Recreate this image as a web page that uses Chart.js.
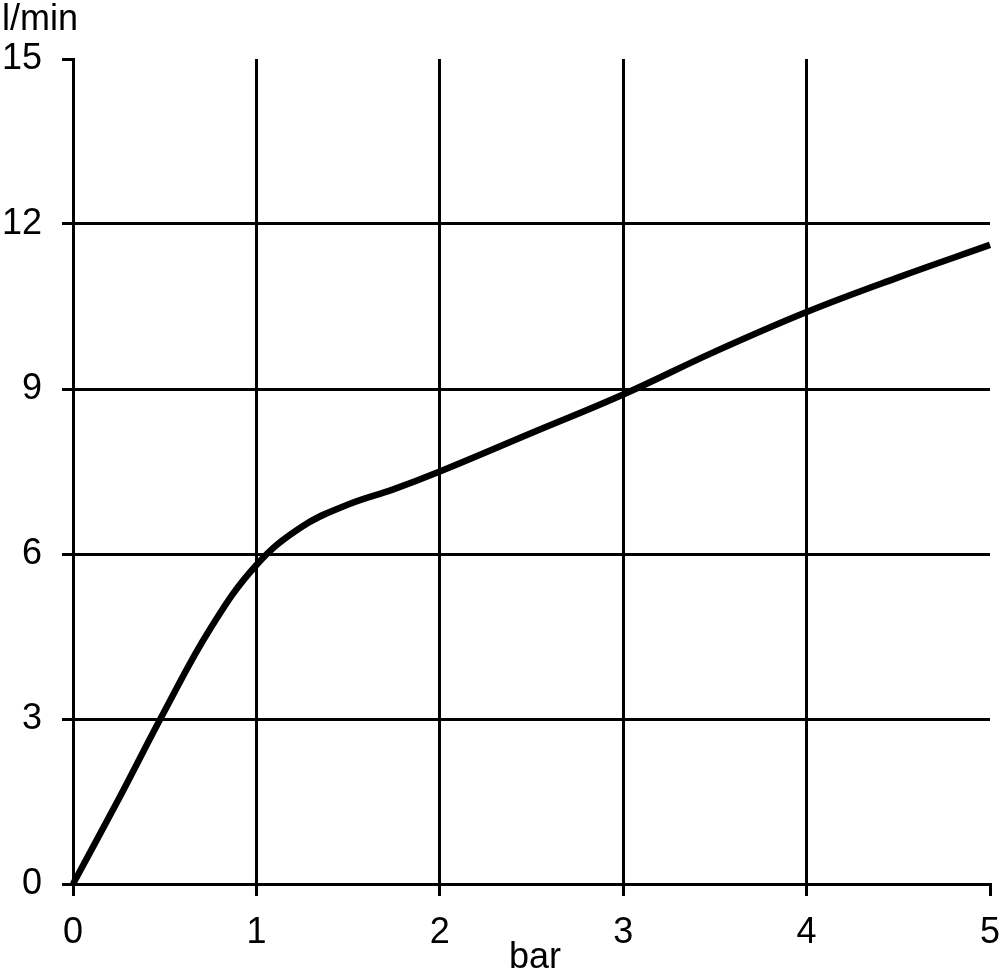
<!DOCTYPE html>
<html>
<head>
<meta charset="utf-8">
<script src="https://cdn.jsdelivr.net/npm/chart.js@4/dist/chart.umd.min.js"></script>
<style>
  html, body { margin: 0; padding: 0; background: #fff; }
  #wrap { width: 1000px; height: 970px; position: relative; }
</style>
</head>
<body>
<div id="wrap"><canvas id="flowChart"></canvas></div>
<script>
// pressure (bar) vs flow (l/min)
const pressure = [0, 0.25, 0.5, 0.75, 1, 1.25, 1.5, 1.75, 2, 2.5, 3, 3.5, 4, 4.5, 5];
const flow = [0, 1.55, 3.15, 4.65, 5.8, 6.5, 6.9, 7.18, 7.5, 8.2, 8.9, 9.68, 10.4, 11.03, 11.62];
const xTicks = [0, 1, 2, 3, 4, 5];
const yTicks = [0, 3, 6, 9, 12, 15];
const xTitle = 'bar';
const yTitle = 'l/min';

const FONT = 'Liberation Sans, Arial, sans-serif';

// axis titles drawn at the corners like the original
const titlePlugin = {
    id: 'titles',
    afterDraw(chart) {
        const c = chart.ctx;
        c.save();
        c.fillStyle = '#000';
        c.font = '36px ' + FONT;
        c.textBaseline = 'alphabetic';
        c.textAlign = 'left';
        c.fillText(yTitle, 2, 30);
        c.textAlign = 'center';
        c.fillText(xTitle, 535, 968);
        c.restore();
    }
};

const ctx = document.getElementById('flowChart').getContext('2d');
new Chart(ctx, {
    type: 'line',
    data: {
        datasets: [{
            data: pressure.map((p, i) => ({ x: p, y: flow[i] })),
            borderColor: '#000',
            borderWidth: 6.5,
            pointRadius: 0,
            fill: false,
            tension: 0.4,
            clip: false
        }]
    },
    options: {
        responsive: true,
        maintainAspectRatio: false,
        animation: false,
        layout: { padding: { top: 59, right: 10, left: 0, bottom: 0 } },
        plugins: {
            legend: { display: false },
            tooltip: { enabled: false }
        },
        scales: {
            x: {
                type: 'linear',
                min: 0,
                max: 5,
                afterBuildTicks: (s) => { s.ticks = xTicks.map(v => ({ value: v })); },
                afterFit: (s) => { s.height = 86; s.paddingRight = 0; s.paddingLeft = 0; },
                border: { color: '#000', width: 3 },
                grid: {
                    color: (c) => c.tick && c.tick.value === 5 ? 'rgba(0,0,0,0)' : '#000',
                    tickColor: '#000',
                    lineWidth: 3,
                    tickLength: 12
                },
                ticks: {
                    color: '#000',
                    font: { family: FONT, size: 36 },
                    padding: 15,
                    maxRotation: 0
                }
            },
            y: {
                min: 0,
                max: 15,
                afterBuildTicks: (s) => { s.ticks = yTicks.map(v => ({ value: v })); },
                afterFit: (s) => { s.width = 73; s.paddingTop = 0; s.paddingBottom = 0; },
                border: { color: '#000', width: 3 },
                grid: {
                    color: (c) => c.tick && c.tick.value === 15 ? 'rgba(0,0,0,0)' : '#000',
                    tickColor: '#000',
                    lineWidth: 3,
                    tickLength: 11
                },
                ticks: {
                    color: '#000',
                    font: { family: FONT, size: 36 },
                    padding: 20
                }
            }
        }
    },
    plugins: [titlePlugin]
});
</script>
</body>
</html>
